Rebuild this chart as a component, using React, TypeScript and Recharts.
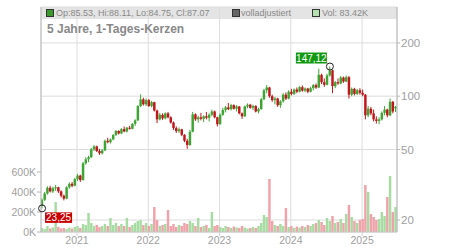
import { ComposedChart, Bar, XAxis, YAxis, CartesianGrid, ReferenceDot, Cell } from 'recharts'

// two-week candles, first one starts early July 2020
const START_YEAR = 2020.51
const PERIODS_PER_YEAR = 26

const open = [
  24.0, 26.0, 28.2, 30.4, 29.0, 30.2, 30.6, 29.0, 27.4, 26.4,
  30.6, 32.0, 31.2, 34.0, 35.6, 33.6, 41.8, 44.0, 45.2, 50.2,
  52.0, 49.0, 47.6, 49.4, 56.0, 55.0, 57.0, 60.4, 63.6, 61.6,
  65.2, 63.2, 66.4, 65.4, 69.8, 73.0, 88.0, 96.0, 90.0, 95.0,
  88.0, 92.5, 83.0, 74.0, 78.5, 75.0, 80.0, 76.0, 71.0, 66.0,
  63.5, 65.0, 60.5, 56.0, 53.0, 63.0, 79.0, 74.0, 76.0, 74.5,
  77.0, 75.5, 78.5, 82.0, 76.0, 69.5, 78.5, 83.5, 86.5, 84.5,
  89.0, 85.0, 87.5, 80.0, 77.0, 87.5, 89.5, 86.0, 88.0, 82.0,
  84.5, 96.0, 108.0, 112.0, 100.0, 95.0, 97.0, 89.0, 93.5, 102.0,
  97.0, 106.0, 103.0, 109.0, 106.0, 112.5, 107.5, 110.5, 106.0, 111.0,
  115.5, 112.0, 132.0, 120.0, 116.0, 131.0, 140.0, 114.0, 120.0, 118.0,
  127.5, 121.0, 128.0, 102.0, 110.0, 103.0, 108.0, 104.5, 102.0, 78.0,
  85.0, 80.0, 74.0, 72.5, 74.0, 80.5, 84.0, 78.0, 93.0, 85.53,
]

const high = [
  26.5, 28.8, 31.0, 31.2, 30.8, 31.5, 30.8, 29.4, 27.8, 31.0,
  32.6, 32.8, 34.6, 36.4, 36.0, 42.5, 45.2, 46.0, 51.0, 53.0,
  52.6, 50.4, 50.2, 56.8, 58.2, 57.6, 61.0, 64.4, 64.2, 66.0,
  67.4, 67.0, 68.0, 70.4, 74.0, 89.0, 102.5, 98.0, 97.0, 96.5,
  94.0, 93.0, 84.0, 80.5, 80.0, 81.0, 81.5, 77.0, 72.0, 67.5,
  66.5, 65.5, 61.0, 57.5, 64.5, 81.5, 80.0, 77.5, 80.5, 78.0,
  81.5, 80.0, 84.0, 83.0, 76.5, 80.0, 86.0, 88.0, 91.5, 90.5,
  90.0, 89.0, 88.0, 81.0, 88.5, 91.0, 90.5, 89.5, 89.0, 86.0,
  98.0, 110.0, 115.5, 113.0, 102.0, 99.0, 98.0, 95.0, 104.0, 105.0,
  108.0, 110.0, 110.5, 112.0, 114.0, 115.0, 112.0, 111.5, 113.0, 117.0,
  118.0, 143.0, 134.0, 126.0, 134.0, 147.12, 141.0, 122.0, 126.0, 130.0,
  129.0, 131.0, 130.0, 112.0, 111.5, 110.0, 111.0, 109.0, 103.0, 88.0,
  87.0, 84.0, 77.0, 76.0, 82.0, 88.0, 85.0, 97.0, 94.0, 88.11,
]

const low = [
  23.25, 25.6, 27.8, 28.6, 28.4, 29.2, 28.4, 26.8, 25.8, 26.2,
  30.0, 30.6, 31.0, 33.2, 32.8, 33.4, 41.0, 42.4, 44.8, 49.0,
  48.4, 46.6, 46.8, 49.0, 54.2, 54.0, 56.4, 59.6, 60.8, 61.0,
  62.6, 62.4, 64.8, 65.0, 68.0, 72.6, 87.0, 88.5, 88.0, 87.0,
  86.5, 82.0, 70.5, 73.0, 73.5, 74.0, 75.0, 70.0, 64.5, 62.0,
  62.0, 59.5, 55.0, 50.5, 52.5, 62.5, 72.5, 71.0, 73.0, 71.5,
  74.0, 72.0, 77.0, 75.0, 67.5, 69.0, 77.5, 81.0, 83.5, 83.0,
  84.0, 82.0, 79.0, 74.5, 76.5, 85.5, 85.0, 83.5, 81.0, 80.0,
  84.0, 95.0, 104.0, 98.0, 93.0, 90.0, 87.0, 86.0, 92.0, 95.0,
  96.0, 101.0, 101.5, 104.0, 105.0, 106.0, 105.5, 104.0, 105.0, 108.0,
  110.0, 111.0, 117.0, 113.0, 115.0, 129.0, 104.0, 111.0, 116.0, 117.0,
  119.0, 120.0, 97.0, 100.0, 101.0, 101.5, 102.0, 100.0, 74.0, 76.0,
  78.0, 72.0, 70.0, 69.5, 73.0, 78.0, 76.0, 77.0, 80.0, 81.5,
]

const close = [
  26.0, 28.2, 30.4, 29.0, 30.2, 30.6, 29.0, 27.4, 26.4, 30.6,
  32.0, 31.2, 34.0, 35.6, 33.6, 41.8, 44.0, 45.2, 50.2, 52.0,
  49.0, 47.6, 49.4, 56.0, 55.0, 57.0, 60.4, 63.6, 61.6, 65.2,
  63.2, 66.4, 65.4, 69.8, 73.0, 88.0, 96.0, 90.0, 95.0, 88.0,
  92.5, 83.0, 74.0, 78.5, 75.0, 80.0, 76.0, 71.0, 66.0, 63.5,
  65.0, 60.5, 56.0, 53.0, 63.0, 79.0, 74.0, 76.0, 74.5, 77.0,
  75.5, 78.5, 82.0, 76.0, 69.5, 78.5, 83.5, 86.5, 84.5, 89.0,
  85.0, 87.5, 80.0, 77.0, 87.5, 89.5, 86.0, 88.0, 82.0, 84.5,
  96.0, 108.0, 112.0, 100.0, 95.0, 97.0, 89.0, 93.5, 102.0, 97.0,
  106.0, 103.0, 109.0, 106.0, 112.5, 107.5, 110.5, 106.0, 111.0, 115.5,
  112.0, 132.0, 120.0, 116.0, 131.0, 140.0, 114.0, 120.0, 118.0, 127.5,
  121.0, 128.0, 102.0, 110.0, 103.0, 108.0, 104.5, 102.0, 78.0, 85.0,
  80.0, 74.0, 72.5, 74.0, 80.5, 84.0, 78.0, 93.0, 82.0, 87.07,
]

// volume in thousands
const volumeK = [
  40, 30, 60, 35, 45, 300, 50, 35, 40, 30,
  45, 35, 50, 60, 40, 80, 70, 190, 90, 60,
  70, 50, 60, 80, 60, 140, 70, 90, 60, 80,
  60, 140, 50, 70, 90, 110, 120, 70, 90, 60,
  80, 250, 120, 60, 70, 80, 220, 60, 80, 50,
  70, 60, 90, 80, 110, 90, 60, 140, 50, 60,
  70, 40, 200, 60, 70, 50, 40, 60, 50, 40,
  55, 45, 40, 60, 45, 35, 40, 50, 40, 60,
  90, 170, 150, 530, 110, 70, 60, 80, 60, 240,
  50, 60, 40, 55, 45, 60, 50, 70, 60, 80,
  90, 120, 100, 70, 140, 110, 160, 90, 100, 130,
  90, 180, 270, 150, 110, 90, 120, 130, 470, 400,
  180, 150, 120, 130, 200, 160, 350, 560, 200, 250,
]

const yearTicks = [2021, 2022, 2023, 2024, 2025]
const priceTicks = [20, 50, 100, 200]
const volumeTicks = [0, 200000, 400000, 600000]

const X_DOMAIN = [2020.495, 2025.49]
const PRICE_DOMAIN = [17.1, 319]
const VOLUME_DOMAIN = [0, 2250000]

const UP = '#3ea535'
const DOWN = '#c2161c'
const VOL_UP = '#a6dca1'
const VOL_DOWN = '#f0a2aa'
const AXIS_TEXT = '#a0a0a0'
const FONT = '"Liberation Sans", Arial, sans-serif'

const data = close.map((c, i) => ({
  t: START_YEAR + i / PERIODS_PER_YEAR,
  open: open[i],
  high: high[i],
  low: low[i],
  close: c,
  range: [low[i], high[i]],
  volume: volumeK[i] * 1000,
}))

const hiIdx = high.indexOf(Math.max(...high))
const loIdx = low.indexOf(Math.min(...low))

function Candle(props: any) {
  const { x, y, width, height, payload } = props
  if (!payload || height == null) return null
  const lh = Math.log(payload.high)
  const ll = Math.log(payload.low)
  const toY = (v: number) => y + ((lh - Math.log(v)) / (lh - ll)) * height
  const color = payload.close >= payload.open ? UP : DOWN
  const top = toY(Math.max(payload.open, payload.close))
  const bot = toY(Math.min(payload.open, payload.close))
  const cx = x + width / 2
  return (
    <g>
      <line x1={cx} x2={cx} y1={y} y2={y + height} stroke={color} strokeWidth={1} />
      <rect x={x} y={top} width={width} height={Math.max(1, bot - top)} fill={color} />
    </g>
  )
}

function priceMarker(text: string, fill: string, above: boolean) {
  return (props: any) => {
    const { cx, cy } = props
    const w = above ? 31 : 27
    const h = above ? 11 : 10.5
    const bx = above ? cx - 3 - w : cx + 3
    const by = above ? cy - 3 - h : cy + 4
    return (
      <g>
        <rect x={bx} y={by} width={w} height={h} fill={fill} />
        <text x={bx + w / 2} y={by + h / 2 + 3.5} textAnchor="middle" fontSize={10} fill="#fff" fontFamily={FONT}>
          {text}
        </text>
        <circle cx={cx} cy={cy} r={3.5} fill="none" stroke="#222" strokeWidth={1} />
      </g>
    )
  }
}

const legendText = { fontSize: 9, color: '#888', position: 'absolute' as const, top: 8, lineHeight: '10px' }
const swatch = (left: number, bg: string) => ({
  position: 'absolute' as const, left, top: 9, width: 6, height: 6, background: bg, border: '1px solid #333',
})

export default function App() {
  return (
    <div style={{ position: 'absolute', left: 0, top: 0, width: 450, height: 250, fontFamily: FONT }}>
      <div style={{ position: 'absolute', left: 41, top: 7, width: 356, height: 12, background: 'rgba(210,210,210,0.6)' }} />
      <ComposedChart width={450} height={250} data={data} margin={{ top: 7, right: 13, bottom: 0, left: 0 }}>
        <CartesianGrid xAxisId="main" yAxisId="price" stroke="#dcdcdc" />
        <XAxis
          xAxisId="main"
          type="number"
          dataKey="t"
          domain={X_DOMAIN}
          ticks={yearTicks}
          tickFormatter={(v) => String(v)}
          height={18}
          tickSize={4}
          tickMargin={1}
          axisLine={{ stroke: '#c8c8c8' }}
          tickLine={{ stroke: '#d0d0d0' }}
          tick={{ fontSize: 10.5, fill: AXIS_TEXT }}
          allowDataOverflow
        />
        <XAxis xAxisId="c" orientation="top" type="number" dataKey="t" domain={X_DOMAIN} hide allowDataOverflow />
        <YAxis
          yAxisId="vol"
          orientation="left"
          domain={VOLUME_DOMAIN}
          ticks={volumeTicks}
          tickFormatter={(v) => `${v / 1000}K`}
          width={41}
          tickSize={4}
          tickMargin={1}
          axisLine={{ stroke: '#b8b8b8' }}
          tickLine={{ stroke: '#b8b8b8' }}
          tick={{ fontSize: 10.5, fill: AXIS_TEXT }}
          allowDataOverflow
        />
        <YAxis
          yAxisId="price"
          orientation="right"
          scale="log"
          domain={PRICE_DOMAIN}
          ticks={priceTicks}
          width={40}
          tickSize={3}
          tickMargin={1}
          axisLine={{ stroke: '#b8b8b8' }}
          tickLine={{ stroke: '#b8b8b8' }}
          tick={{ fontSize: 11.5, fill: AXIS_TEXT }}
          allowDataOverflow
        />
        <Bar xAxisId="main" yAxisId="vol" dataKey="volume" barSize={3} isAnimationActive={false}>
          {data.map((d, i) => (
            <Cell key={`v-${i}`} fill={d.close >= d.open ? VOL_UP : VOL_DOWN} />
          ))}
        </Bar>
        <Bar xAxisId="c" yAxisId="price" dataKey="range" barSize={3} shape={Candle} isAnimationActive={false} />
        <ReferenceDot
          xAxisId="c"
          yAxisId="price"
          x={data[hiIdx].t}
          y={high[hiIdx]}
          shape={priceMarker(high[hiIdx].toFixed(2).replace('.', ','), '#119a11', true)}
        />
        <ReferenceDot
          xAxisId="c"
          yAxisId="price"
          x={data[loIdx].t}
          y={low[loIdx]}
          shape={priceMarker(low[loIdx].toFixed(2).replace('.', ','), '#c80000', false)}
        />
      </ComposedChart>
      <div style={swatch(46, '#3a9a2a')} />
      <div style={{ ...legendText, left: 56 }}>Op:85.53, Hi:88.11, Lo:84.75, Cl:87.07</div>
      <div style={swatch(232, '#666')} />
      <div style={{ ...legendText, left: 241 }}>volladjustiert</div>
      <div style={swatch(312, '#b5e0b0')} />
      <div style={{ ...legendText, left: 322 }}>Vol: 83.42K</div>
      <div style={{ position: 'absolute', left: 47, top: 22, fontSize: 12, fontWeight: 'bold', color: '#888' }}>
        5 Jahre, 1-Tages-Kerzen
      </div>
    </div>
  )
}
